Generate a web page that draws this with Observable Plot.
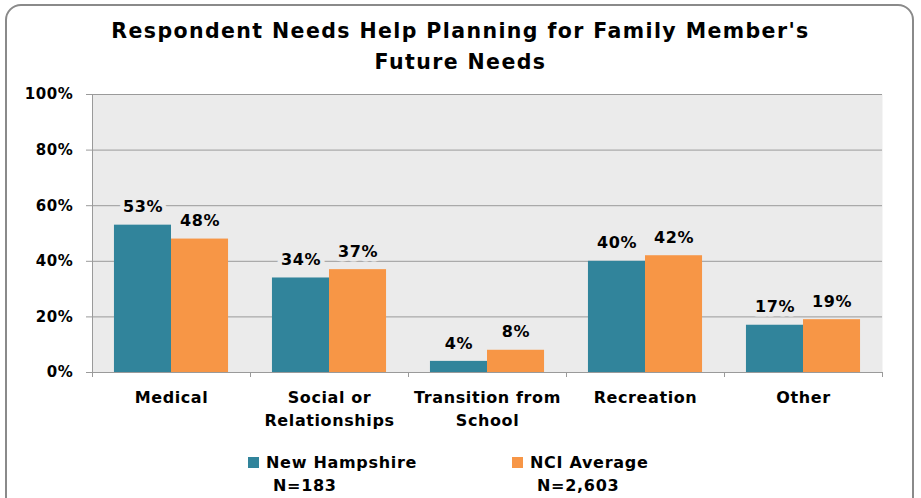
<!DOCTYPE html>
<html><head><meta charset="utf-8">
<script src="https://cdn.jsdelivr.net/npm/d3@7"></script>
<script src="https://cdn.jsdelivr.net/npm/@observablehq/plot@0.6"></script>
<style>
body{margin:0;background:#fff;overflow:hidden}
#wrap{position:relative;width:921px;height:498px;overflow:hidden;background:#fff}
#chart{position:absolute;left:0;top:0}
#border{position:absolute;left:5px;top:4px;width:909px;height:530px;border:2px solid #8a8a8a;border-radius:16px;box-sizing:border-box}
#title{position:absolute;left:0;top:16px;width:921px;text-align:center;font:bold 20.5px "DejaVu Sans";letter-spacing:1.4px;line-height:31px;color:#000}
.leg{position:absolute;font:bold 16px "DejaVu Sans";letter-spacing:0.7px;color:#000;white-space:nowrap;line-height:23px}
.sw{position:absolute;width:11px;height:11px}
</style></head><body>
<div id="wrap">
<div id="chart"></div>
<div id="border"></div>
<div id="title"></div>
<div id="legend"></div>
</div>
<script>
const titleLines = ["Respondent Needs Help Planning for Family Member's", "Future Needs"];
const categories = ["Medical", "Social or\nRelationships", "Transition from\nSchool", "Recreation", "Other"];
const seriesNames = ["New Hampshire", "NCI Average"];
const seriesN = ["N=183", "N=2,603"];
const newHampshire = [0.53, 0.34, 0.04, 0.40, 0.17];
const nciAverage = [0.48, 0.37, 0.08, 0.42, 0.19];
const yTicks = [0, 0.2, 0.4, 0.6, 0.8, 1];
const colors = ["#31849b", "#f79646"];

const rows = [];
[newHampshire, nciAverage].forEach((vals, s) =>
  vals.forEach((v, i) => rows.push({i, s, category: categories[i], series: seriesNames[s], value: v})));

const groupEdges = [0.139, 0.5, 0.861];
const pct = d3.format(".0%");
const grid = "#9a9a9a";

const chart = Plot.plot({
  width: 921, height: 498,
  marginLeft: 92, marginRight: 39, marginTop: 94, marginBottom: 126,
  style: {fontFamily: "DejaVu Sans", fontSize: "16px", fontWeight: "bold", color: "#000", background: "transparent", letterSpacing: "0.6px"},
  x: {domain: [0, categories.length], label: null},
  y: {domain: [0, 1], label: null},
  color: {domain: seriesNames, range: colors},
  marks: [
    Plot.frame({fill: "#ebebeb", stroke: null}),
    Plot.gridY(yTicks.slice(1), {stroke: grid, strokeOpacity: 1}),
    Plot.rectY(rows, {
      x1: d => d.i + groupEdges[d.s], x2: d => d.i + groupEdges[d.s + 1],
      y1: 0, y2: "value", fill: "series"
    }),
    Plot.text(rows, {
      x: d => d.i + (groupEdges[d.s] + groupEdges[d.s + 1]) / 2,
      y: "value", text: d => pct(d.value), dy: -18,
      fill: "#000", stroke: "#ebebeb", strokeWidth: 9, strokeLinejoin: "round", paintOrder: "stroke",
      fontSize: 16, fontWeight: "bold"
    }),
    Plot.ruleX([0], {stroke: grid}),
    Plot.ruleY([0], {stroke: grid}),
    Plot.axisY({ticks: yTicks, tickFormat: pct, tickSize: 6, tickPadding: 13, stroke: grid, strokeOpacity: 1, fontSize: 15}),
    Plot.axisX({ticks: d3.range(categories.length + 1), tickFormat: () => "", tickSize: 5, stroke: grid, strokeOpacity: 1}),
    Plot.axisX({ticks: categories.map((_, i) => i + 0.5), tickFormat: d => categories[Math.floor(d)], tickSize: 0, tickPadding: 14, lineHeight: 1.44, fontSize: 16})
  ]
});
document.getElementById("chart").appendChild(chart);

document.getElementById("title").innerHTML = titleLines.join("<br>");

const legendPos = [{sx: 248, tx: 266, nx: 273}, {sx: 512, tx: 530, nx: 537}];
const leg = document.getElementById("legend");
seriesNames.forEach((name, s) => {
  const p = legendPos[s];
  const sw = document.createElement("div");
  sw.className = "sw"; sw.style.left = p.sx + "px"; sw.style.top = "457px"; sw.style.background = colors[s];
  leg.appendChild(sw);
  const t = document.createElement("div");
  t.className = "leg"; t.style.left = p.tx + "px"; t.style.top = "451px"; t.textContent = name;
  leg.appendChild(t);
  const n = document.createElement("div");
  n.className = "leg"; n.style.left = p.nx + "px"; n.style.top = "474px"; n.textContent = seriesN[s];
  leg.appendChild(n);
});
</script>
</body></html>
